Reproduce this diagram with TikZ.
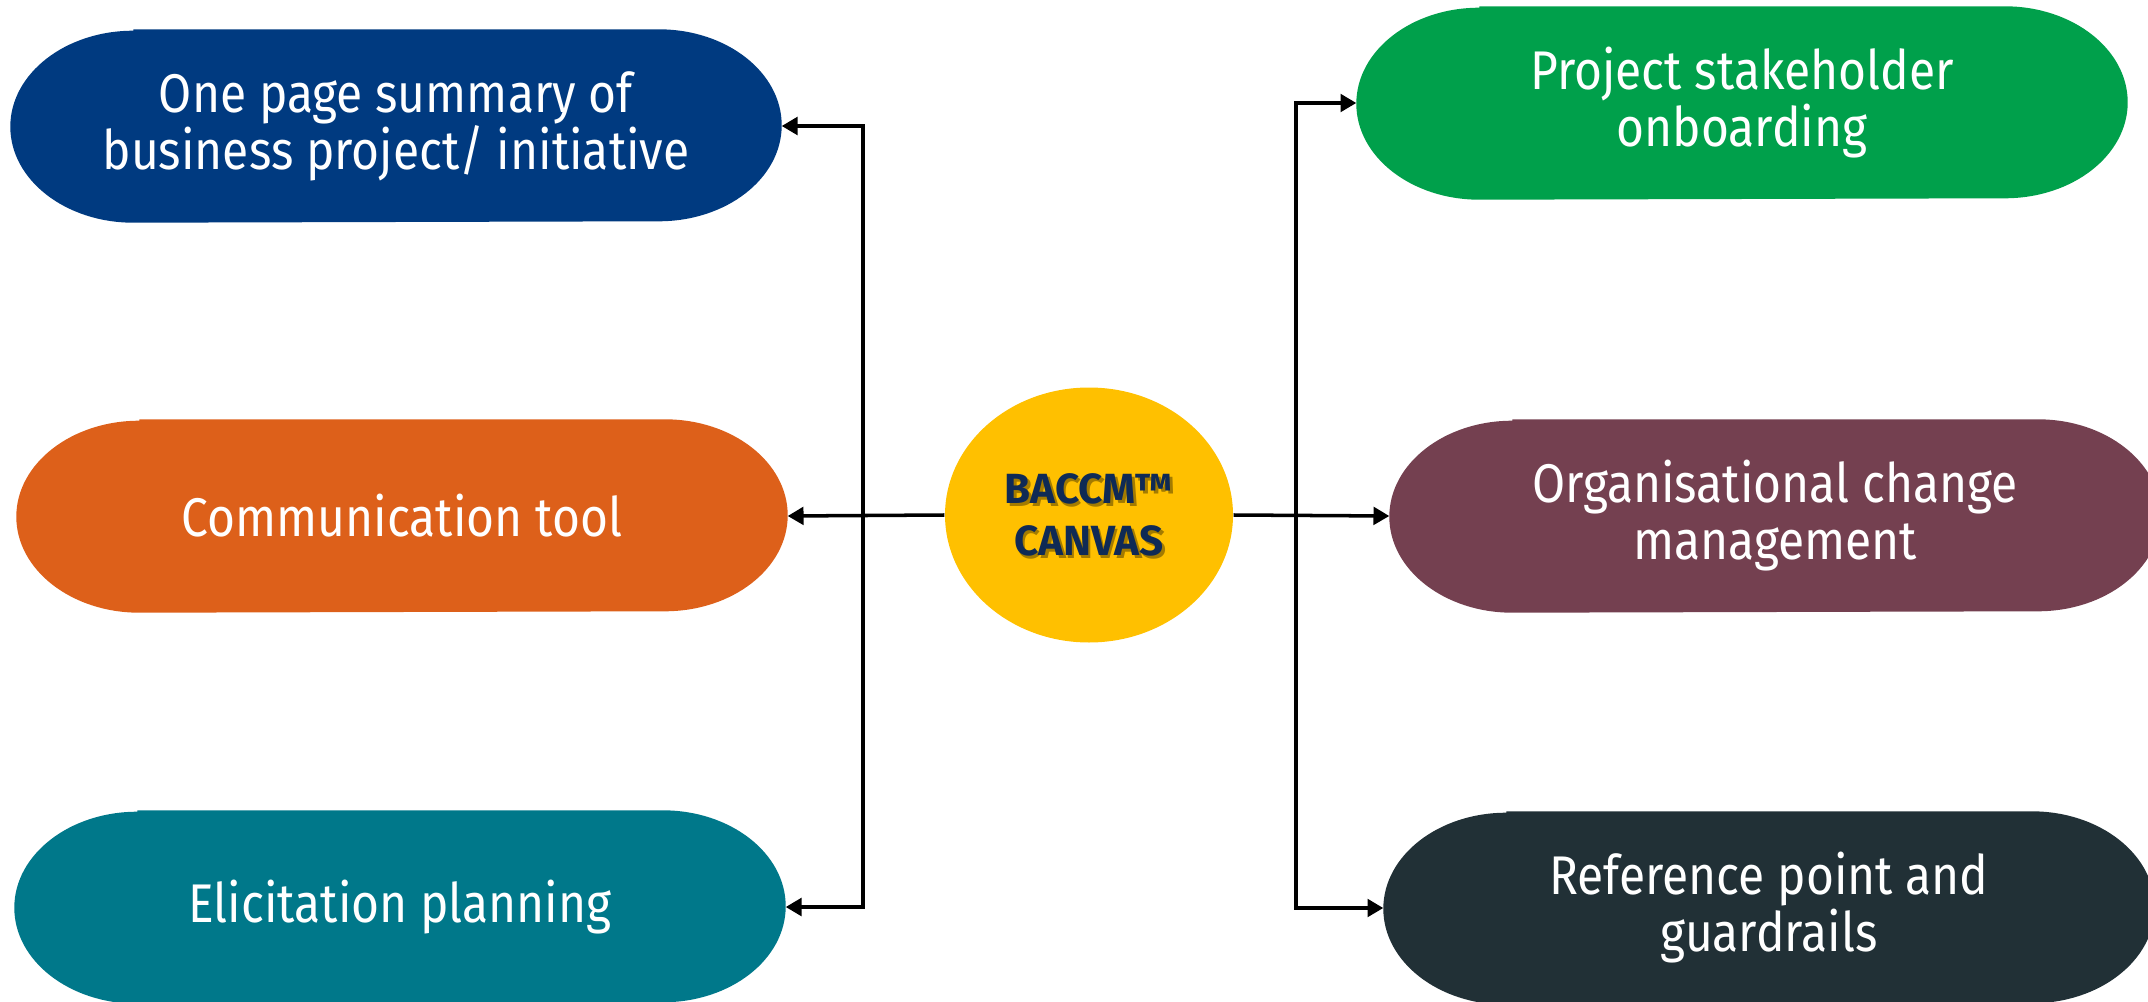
\documentclass[tikz,border=0pt]{standalone}
\usepackage{fontspec}
\setmainfont[FakeStretch=0.88]{Fira Sans}
\newfontfamily\canvasfont{Fira Sans}
\usetikzlibrary{arrows.meta,backgrounds,calc,shapes.geometric}
\definecolor{sumblue}{HTML}{003A80}
\definecolor{commorange}{HTML}{DD601A}
\definecolor{elicteal}{HTML}{00788A}
\definecolor{onbgreen}{HTML}{00A04B}
\definecolor{ocmmaroon}{HTML}{744050}
\definecolor{refdark}{HTML}{213036}
\definecolor{canvasyellow}{HTML}{FFC000}
\definecolor{canvasnavy}{HTML}{0F2A55}
\tikzset{
    pill/.style={minimum width=7.7cm, minimum height=1.92cm, inner sep=0pt,
        text=white, align=center, font=\fontsize{15.5}{16.2}\selectfont},
    canvastext/.style={align=center, font=\canvasfont\fontsize{12}{15}\selectfont\bfseries},
    link/.style={line width=1pt, -{Triangle[length=4.5pt,width=5pt]}},
}
% stadium with elliptical ends behind a pill node
\newcommand{\pillfill}[2]{%
    \fill[#2] ($(#1.north west)+(1.23,0)$) -- ($(#1.north east)-(1.23,0)$)
        arc[start angle=90, end angle=-90, x radius=1.23cm, y radius=0.96cm]
        -- ($(#1.south west)+(1.23,0)$)
        arc[start angle=270, end angle=90, x radius=1.23cm, y radius=0.96cm] -- cycle;}

\begin{document}
\begin{tikzpicture}
    \useasboundingbox (0,0) rectangle (21.48,10.01);
    \clip (0,0) rectangle (21.48,10.01);
    \node[ellipse, fill=canvasyellow, minimum width=2.88cm, minimum height=2.55cm, inner sep=0pt] (canvas) at (10.89,4.86) {};
    \node[canvastext, text=black!60!canvasyellow, opacity=0.6] (canvasshade) at ($(canvas)+(0.025,-0.03)$) {BACCM™\\CANVAS};
    \node[canvastext, text=canvasnavy] (canvaslabel) at (canvas) {BACCM™\\CANVAS};
    \node[pill] (summary) at (3.96,8.75) {One page summary of\\business project/ initiative};
    \node[pill] (comm) at (4.02,4.85) {Communication tool};
    \node[pill] (elic) at (4.00,0.94) {Elicitation planning};
    \node[pill] (onb) at (17.42,8.98) {Project stakeholder\\onboarding};
    \node[pill] (ocm) at (17.75,4.85) {Organisational change\\management};
    \node[pill] (ref) at (17.69,0.93) {Reference point and\\guardrails};
    \begin{scope}[on background layer]
        \pillfill{summary}{sumblue}
        \pillfill{comm}{commorange}
        \pillfill{elic}{elicteal}
        \pillfill{onb}{onbgreen}
        \pillfill{ocm}{ocmmaroon}
        \pillfill{ref}{refdark}
    \end{scope}
    \coordinate (jl) at (8.63,4.86);
    \coordinate (jr) at (12.96,4.86);
    \draw[link] (canvas.west) -- (comm.east);
    \draw[link] (jl) |- (summary.east);
    \draw[link] (jl) |- (elic.east);
    \draw[link] (canvas.east) -- (ocm.west);
    \draw[link] (jr) |- (onb.west);
    \draw[link] (jr) |- (ref.west);
\end{tikzpicture}
\end{document}
